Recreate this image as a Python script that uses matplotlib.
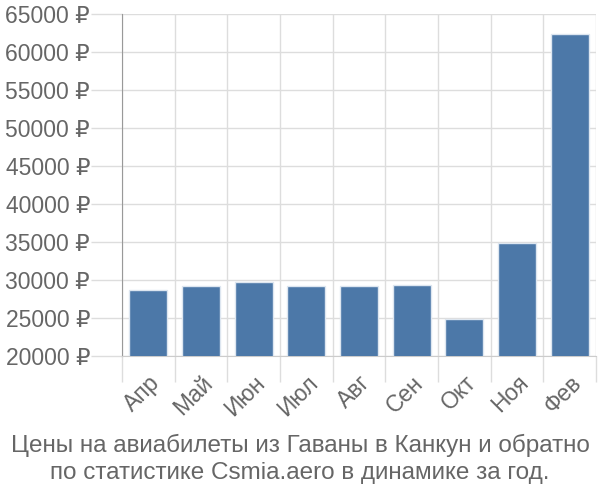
import matplotlib
matplotlib.use("Agg")
import matplotlib.pyplot as plt
import numpy as np

months = ["Апр", "Май", "Июн", "Июл", "Авг", "Сен", "Окт", "Ноя", "Фев"]
prices = [28720, 29250, 29690, 29160, 29160, 29300, 24830, 34870, 62370]
yticks = [20000, 25000, 30000, 35000, 40000, 45000, 50000, 55000, 60000, 65000]
title = "Цены на авиабилеты из Гаваны в Канкун и обратно\nпо статистике Csmia.aero в динамике за год."

plt.rcParams['font.family'] = ['Liberation Sans', 'DejaVu Sans']
txt = "#666666"
grid = "#dddddd"

fig = plt.figure(figsize=(6, 5), dpi=100)
ax = fig.add_axes([122/600, 1-356/500, (596-122)/600, (356-14)/500])
x = np.arange(len(months))
ax.bar(x, prices, width=0.72, bottom=0, color="#4c78a8", edgecolor="#dde6f0", linewidth=1, zorder=3)
ax.set_xlim(-0.5, len(months)-0.5)
ax.set_ylim(20000, 65000)
ax.set_yticks(yticks)
ax.set_yticklabels([f"{v} ₽" for v in yticks], color=txt, fontsize=16.5)
ax.set_xticks(x)
ax.set_xticklabels(months, rotation=45, ha="right", va="top", rotation_mode="anchor", color=txt, fontsize=16.5)
ax.set_xticks(np.arange(-0.5, len(months)), minor=True)
ax.tick_params(axis="x", which="major", length=0, pad=11)
ax.tick_params(axis="x", which="minor", length=19, color=grid, width=1)
ax.tick_params(axis="y", length=22, color=grid, width=1, pad=1)
ax.grid(True, axis="y", color=grid, linewidth=1, zorder=0)
ax.grid(True, axis="x", which="minor", color=grid, linewidth=1, zorder=0)
for s in ["top", "right"]:
    ax.spines[s].set_visible(False)
ax.spines["left"].set_color("#999999")
ax.spines["bottom"].set_color("#cccccc")
fig.text(0.5, 1-459/500, title, ha="center", va="center", color=txt, fontsize=17.5, linespacing=1.25)
fig.savefig("out.png", dpi=100)
